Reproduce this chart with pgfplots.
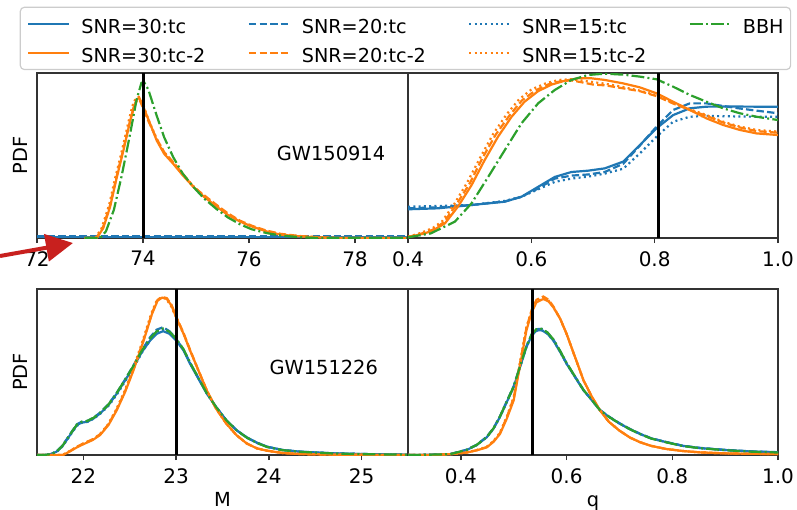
\documentclass[border=0pt]{standalone}
\usepackage{pgfplots}
\pgfplotsset{compat=1.18}
\usepackage{fontspec}
\setmainfont{DejaVu Sans}
\usetikzlibrary{arrows.meta}
\definecolor{tcblue}{HTML}{1F77B4}
\definecolor{tcorange}{HTML}{FF7F0E}
\definecolor{tcgreen}{HTML}{2CA02C}
\definecolor{arrowred}{HTML}{C8201E}

\pgfplotsset{
  panel/.style={
    scale only axis,
    ymin=0, ymax=1, ytick=\empty,
    axis line style={black!80, line width=0.7pt},
    xtick align=outside, xtick pos=bottom,
    major tick length=2.6pt,
    tick style={black!80, line width=0.7pt},
    tick label style={font=\fontsize{10}{12}\selectfont},
    xticklabel style={inner sep=0pt},
    xticklabel shift=3.9pt,
    /pgf/number format/assume math mode=true,
    label style={font=\fontsize{9.7}{11.5}\selectfont},
    clip=true,
  },
  tcs/.style={tcblue, line width=1.1pt, solid},
  tcd/.style={tcblue, line width=1.1pt, dash pattern=on 3.7pt off 1.6pt},
  tcp/.style={tcblue, line width=1.1pt, dash pattern=on 1pt off 1.65pt},
  t2s/.style={tcorange, line width=1.1pt, solid},
  t2d/.style={tcorange, line width=1.1pt, dash pattern=on 3.7pt off 1.6pt},
  t2p/.style={tcorange, line width=1.1pt, dash pattern=on 1pt off 1.65pt},
  bbh/.style={tcgreen, line width=1.1pt, dash pattern=on 6.4pt off 1.6pt on 1pt off 1.6pt},
  truth/.style={black, line width=1.5pt},
}

\begin{document}
\begin{tikzpicture}
\path[use as bounding box] (0pt,0pt) rectangle (398.5pt,-254.5pt);

% ---------------- top left: GW150914, M ----------------
\begin{axis}[panel, at={(18.5pt,-36.5pt)}, anchor=north west,
  width=185.5pt, height=82.5pt,
  xmin=72, xmax=79, xtick={72,74,76,78},
  ylabel={PDF},
  ylabel style={at={(axis description cs:-0.0458,0.5)}, anchor=center},
  legend columns=4,
  legend cell align=left,
  legend image code/.code={\draw[#1, line width=1.1pt] (0pt,0pt) -- (20.5pt,0pt);},
  legend style={at={(axis description cs:-0.0466,1.4018)}, anchor=north west,
    draw=black!20, line width=0.6pt, rounded corners=2pt, fill=white,
    font=\fontsize{9.6}{11.5}\selectfont,
    inner xsep=3.5pt, inner ysep=3.5pt, row sep=4.9pt,
    nodes={inner xsep=0pt, inner ysep=0pt, text height=9.6pt, text depth=0pt},
    /tikz/every odd column/.append style={column sep=5.4pt},
    /tikz/every even column/.append style={column sep=21.2pt}},
]
\addplot[tcs, forget plot] coordinates {(72,0.004) (79,0.004)};
\addplot[tcd, forget plot] coordinates {(72,0.012) (79,0.012)};
\addplot[tcp, forget plot] coordinates {(72,0.008) (79,0.008)};
\addplot[t2d, forget plot] coordinates {
(72.9,0) (73.12,0) (73.25,0.07) (73.38,0.2) (73.5,0.37) (73.63,0.54) (73.75,0.7)
(73.82,0.78) (73.88,0.83) (73.93,0.84) (74.0,0.79) (74.1,0.71) (74.26,0.6)
(74.4,0.52) (74.57,0.46) (74.75,0.39) (74.95,0.31) (75.15,0.26) (75.39,0.2)
(75.6,0.15) (75.83,0.105) (76.05,0.075) (76.33,0.045) (76.6,0.025) (76.96,0.012)
(77.3,0.005) (77.7,0) (79,0)};
\addplot[t2p, forget plot] coordinates {
(72.9,0) (73.1,0) (73.22,0.06) (73.36,0.2) (73.48,0.37) (73.61,0.54) (73.73,0.71)
(73.8,0.8) (73.86,0.845) (73.92,0.855) (74.0,0.81) (74.1,0.72) (74.26,0.6)
(74.4,0.52) (74.57,0.455) (74.75,0.385) (74.95,0.315) (75.15,0.255) (75.39,0.195)
(75.6,0.145) (75.83,0.1) (76.05,0.07) (76.33,0.042) (76.6,0.022) (76.96,0.01)
(77.3,0.004) (77.7,0) (79,0)};
\addplot[t2s, forget plot] coordinates {
(72.9,0) (73.13,0) (73.25,0.06) (73.38,0.19) (73.5,0.36) (73.63,0.53) (73.75,0.7)
(73.82,0.79) (73.88,0.84) (73.93,0.85) (74.0,0.8) (74.1,0.72) (74.26,0.59)
(74.4,0.51) (74.57,0.45) (74.75,0.38) (74.95,0.31) (75.15,0.25) (75.39,0.19)
(75.6,0.14) (75.83,0.1) (76.05,0.07) (76.33,0.04) (76.6,0.02) (76.96,0.01)
(77.3,0.004) (77.59,0) (79,0)};
\addplot[bbh, forget plot] coordinates {
(72.9,0) (73.19,0) (73.3,0.04) (73.45,0.17) (73.6,0.38) (73.75,0.62) (73.88,0.84)
(73.97,0.94) (74.02,0.945) (74.1,0.9) (74.26,0.74) (74.4,0.61) (74.57,0.49)
(74.75,0.39) (74.95,0.31) (75.15,0.24) (75.39,0.175) (75.6,0.125) (75.83,0.083)
(76.05,0.053) (76.33,0.03) (76.6,0.015) (76.96,0.005) (77.3,0) (79,0)};
\addplot[truth, forget plot] coordinates {(74,0) (74,1)};
\node[font=\fontsize{9.7}{11.5}\selectfont] at (rel axis cs:0.7925,0.512) {GW150914};
\addlegendimage{tcs}\addlegendentry{SNR=30:tc}
\addlegendimage{tcd}\addlegendentry{SNR=20:tc}
\addlegendimage{tcp}\addlegendentry{SNR=15:tc}
\addlegendimage{bbh}\addlegendentry{BBH}
\addlegendimage{t2s}\addlegendentry{SNR=30:tc-2}
\addlegendimage{t2d}\addlegendentry{SNR=20:tc-2}
\addlegendimage{t2p}\addlegendentry{SNR=15:tc-2}
\end{axis}

% ---------------- top right: GW150914, q ----------------
\begin{axis}[panel, at={(204pt,-36.5pt)}, anchor=north west,
  width=185pt, height=82.5pt,
  xmin=0.4, xmax=1.0, xtick={0.4,0.6,0.8,1.0}, xticklabels={0.4,0.6,0.8,1.0},
]
\addplot[tcp] coordinates {
(0.4,0.19) (0.449,0.194) (0.503,0.2) (0.557,0.225) (0.584,0.25) (0.611,0.295)
(0.638,0.34) (0.665,0.36) (0.692,0.372) (0.719,0.39) (0.749,0.42) (0.776,0.513)
(0.803,0.614) (0.83,0.705) (0.857,0.735) (0.884,0.74) (0.911,0.738) (0.965,0.735) (1.0,0.735)};
\addplot[tcd] coordinates {
(0.4,0.18) (0.449,0.186) (0.503,0.2) (0.557,0.222) (0.584,0.25) (0.611,0.3)
(0.638,0.36) (0.665,0.378) (0.692,0.385) (0.719,0.4) (0.749,0.45) (0.776,0.56)
(0.803,0.675) (0.83,0.776) (0.857,0.816) (0.884,0.816) (0.911,0.8) (0.938,0.785)
(0.965,0.772) (1.0,0.756)};
\addplot[tcs] coordinates {
(0.4,0.174) (0.449,0.18) (0.503,0.2) (0.557,0.22) (0.584,0.25) (0.611,0.31)
(0.638,0.37) (0.665,0.4) (0.692,0.408) (0.719,0.422) (0.749,0.463) (0.776,0.564)
(0.803,0.665) (0.83,0.745) (0.857,0.786) (0.884,0.796) (0.911,0.797) (0.965,0.796) (1.0,0.796)};
\addplot[t2p] coordinates {
(0.4,0.007) (0.42,0.03) (0.44,0.06) (0.455,0.1) (0.474,0.2) (0.495,0.33) (0.516,0.48)
(0.538,0.63) (0.56,0.75) (0.58,0.84) (0.6,0.9) (0.625,0.94) (0.645,0.958) (0.665,0.962)
(0.68,0.955) (0.7,0.945) (0.72,0.935) (0.749,0.915) (0.776,0.893) (0.803,0.865)
(0.83,0.82) (0.857,0.78) (0.884,0.745) (0.911,0.705) (0.938,0.675) (0.965,0.655) (1.0,0.645)};
\addplot[t2d] coordinates {
(0.4,0.006) (0.425,0.03) (0.44,0.05) (0.458,0.095) (0.478,0.2) (0.5,0.33) (0.52,0.48)
(0.542,0.625) (0.565,0.745) (0.585,0.835) (0.607,0.895) (0.63,0.935) (0.65,0.952)
(0.665,0.955) (0.68,0.945) (0.7,0.93) (0.72,0.925) (0.749,0.907) (0.776,0.89)
(0.803,0.86) (0.83,0.815) (0.857,0.776) (0.884,0.74) (0.911,0.7) (0.938,0.67)
(0.965,0.648) (1.0,0.638)};
\addplot[t2s] coordinates {
(0.4,0.005) (0.427,0.028) (0.44,0.045) (0.46,0.089) (0.481,0.19) (0.503,0.32)
(0.524,0.47) (0.546,0.614) (0.568,0.735) (0.589,0.826) (0.611,0.89) (0.633,0.93)
(0.654,0.953) (0.676,0.968) (0.697,0.968) (0.719,0.958) (0.749,0.937) (0.776,0.913)
(0.803,0.877) (0.83,0.826) (0.857,0.776) (0.884,0.725) (0.911,0.685) (0.938,0.655)
(0.965,0.634) (1.0,0.624)};
\addplot[bbh] coordinates {
(0.4,0.004) (0.437,0.028) (0.476,0.099) (0.503,0.21) (0.53,0.37) (0.557,0.533)
(0.584,0.695) (0.611,0.816) (0.638,0.897) (0.665,0.958) (0.692,0.988) (0.719,0.996)
(0.749,0.99) (0.776,0.978) (0.803,0.962) (0.83,0.917) (0.857,0.867) (0.884,0.826)
(0.911,0.786) (0.938,0.756) (0.965,0.735) (1.0,0.715)};
\addplot[truth] coordinates {(0.806,0) (0.806,1)};
\end{axis}

% ---------------- bottom left: GW151226, M ----------------
\begin{axis}[panel, at={(18.5pt,-144.5pt)}, anchor=north west,
  width=185.5pt, height=83pt,
  xmin=21.5, xmax=25.5, xtick={22,23,24,25},
  ylabel={PDF},
  ylabel style={at={(axis description cs:-0.0458,0.5)}, anchor=center},
  xlabel={M},
  xlabel style={at={(axis description cs:0.5,-0.311)}, anchor=base},
]
\addplot[tcd] coordinates {
(21.5,0) (21.57,0) (21.65,0.006) (21.71,0.022) (21.77,0.055) (21.82,0.095) (21.88,0.145)
(21.93,0.185) (21.98,0.2) (22.04,0.205) (22.11,0.225) (22.18,0.255) (22.27,0.305)
(22.36,0.375) (22.45,0.455) (22.54,0.54) (22.63,0.63) (22.72,0.71) (22.79,0.755)
(22.86,0.77) (22.93,0.745) (23.0,0.7) (23.08,0.635) (23.15,0.555) (23.24,0.465)
(23.33,0.375) (23.43,0.29) (23.54,0.21) (23.65,0.15) (23.76,0.105) (23.87,0.073)
(23.98,0.05) (24.15,0.03) (24.34,0.02) (24.7,0.01) (25.0,0.006) (25.5,0.002)};
\addplot[tcp] coordinates {
(21.5,0) (21.58,0) (21.66,0.006) (21.72,0.022) (21.78,0.055) (21.83,0.095) (21.89,0.145)
(21.94,0.18) (21.99,0.195) (22.05,0.2) (22.12,0.222) (22.19,0.252) (22.28,0.302)
(22.37,0.372) (22.46,0.452) (22.55,0.535) (22.64,0.625) (22.73,0.7) (22.8,0.745)
(22.87,0.758) (22.94,0.74) (23.0,0.7) (23.08,0.635) (23.15,0.555) (23.24,0.462)
(23.33,0.372) (23.43,0.29) (23.54,0.21) (23.65,0.15) (23.76,0.107) (23.87,0.075)
(23.98,0.05) (24.15,0.03) (24.34,0.02) (24.7,0.01) (25.0,0.006) (25.5,0.002)};
\addplot[tcs] coordinates {
(21.5,0) (21.57,0) (21.65,0.005) (21.71,0.02) (21.77,0.05) (21.82,0.09) (21.88,0.14)
(21.93,0.18) (21.98,0.195) (22.04,0.2) (22.11,0.22) (22.18,0.25) (22.27,0.3)
(22.36,0.37) (22.45,0.45) (22.54,0.53) (22.63,0.62) (22.72,0.69) (22.79,0.73)
(22.86,0.746) (22.93,0.73) (23.0,0.69) (23.08,0.63) (23.15,0.55) (23.24,0.46)
(23.33,0.37) (23.43,0.29) (23.54,0.21) (23.65,0.15) (23.76,0.107) (23.87,0.075)
(23.98,0.05) (24.15,0.03) (24.34,0.02) (24.7,0.01) (25.0,0.006) (25.5,0.002)};
\addplot[t2d] coordinates {
(21.5,0) (21.78,0) (21.85,0.022) (21.93,0.05) (22.0,0.07) (22.1,0.095) (22.18,0.125)
(22.27,0.185) (22.36,0.275) (22.45,0.385) (22.54,0.515) (22.65,0.695) (22.74,0.855)
(22.8,0.935) (22.85,0.952) (22.9,0.945) (22.95,0.905) (23.0,0.835) (23.08,0.735)
(23.15,0.635) (23.24,0.51) (23.33,0.39) (23.43,0.28) (23.54,0.19) (23.65,0.12)
(23.76,0.07) (23.87,0.04) (23.98,0.026) (24.15,0.012) (24.34,0.006) (24.7,0.002) (25.5,0)};
\addplot[t2p] coordinates {
(21.5,0) (21.77,0) (21.84,0.02) (21.92,0.046) (21.99,0.066) (22.09,0.09) (22.17,0.12)
(22.26,0.18) (22.35,0.27) (22.44,0.38) (22.53,0.51) (22.64,0.69) (22.73,0.85)
(22.79,0.93) (22.84,0.95) (22.89,0.942) (22.94,0.902) (23.0,0.83) (23.08,0.73)
(23.15,0.63) (23.24,0.51) (23.33,0.39) (23.43,0.28) (23.54,0.19) (23.65,0.12)
(23.76,0.07) (23.87,0.04) (23.98,0.026) (24.15,0.012) (24.34,0.006) (24.7,0.002) (25.5,0)};
\addplot[t2s] coordinates {
(21.5,0) (21.78,0) (21.85,0.02) (21.93,0.046) (22.0,0.065) (22.1,0.09) (22.18,0.12)
(22.27,0.18) (22.36,0.27) (22.45,0.38) (22.54,0.51) (22.65,0.69) (22.74,0.85)
(22.8,0.93) (22.85,0.948) (22.9,0.94) (22.95,0.9) (23.0,0.83) (23.08,0.73)
(23.15,0.63) (23.24,0.51) (23.33,0.39) (23.43,0.28) (23.54,0.19) (23.65,0.12)
(23.76,0.07) (23.87,0.04) (23.98,0.026) (24.15,0.012) (24.34,0.006) (24.7,0.002) (25.5,0)};
\addplot[bbh] coordinates {
(21.5,0) (21.57,0) (21.65,0.005) (21.71,0.021) (21.77,0.052) (21.82,0.093) (21.88,0.143)
(21.93,0.183) (21.98,0.2) (22.04,0.205) (22.11,0.224) (22.18,0.254) (22.27,0.304)
(22.36,0.374) (22.45,0.455) (22.54,0.537) (22.63,0.628) (22.72,0.702) (22.79,0.745)
(22.86,0.762) (22.93,0.742) (23.0,0.7) (23.08,0.637) (23.15,0.557) (23.24,0.465)
(23.33,0.373) (23.43,0.29) (23.54,0.21) (23.65,0.15) (23.76,0.105) (23.87,0.073)
(23.98,0.048) (24.15,0.029) (24.34,0.019) (24.7,0.009) (25.0,0.005) (25.5,0.002)};
\addplot[truth] coordinates {(23.0,0) (23.0,1)};
\node[font=\fontsize{9.7}{11.5}\selectfont] at (rel axis cs:0.773,0.527) {GW151226};
\end{axis}

% ---------------- bottom right: GW151226, q ----------------
\begin{axis}[panel, at={(204pt,-144.5pt)}, anchor=north west,
  width=185pt, height=83pt,
  xmin=0.3, xmax=1.0, xtick={0.4,0.6,0.8,1.0}, xticklabels={0.4,0.6,0.8,1.0},
  xlabel={q},
  xlabel style={at={(axis description cs:0.5,-0.311)}, anchor=base},
]
\addplot[tcd] coordinates {
(0.3,0) (0.33,0.001) (0.38,0.006) (0.411,0.032) (0.43,0.062) (0.449,0.11) (0.462,0.163)
(0.474,0.233) (0.487,0.325) (0.5,0.415) (0.512,0.535) (0.524,0.655) (0.534,0.727)
(0.543,0.758) (0.553,0.76) (0.564,0.737) (0.575,0.695) (0.588,0.625) (0.6,0.553)
(0.616,0.472) (0.632,0.392) (0.648,0.33) (0.663,0.272) (0.68,0.232) (0.7,0.192)
(0.72,0.157) (0.739,0.128) (0.76,0.101) (0.789,0.078) (0.82,0.056) (0.852,0.043)
(0.9,0.031) (0.95,0.022) (1.0,0.017)};
\addplot[tcp] coordinates {
(0.3,0) (0.33,0.001) (0.38,0.005) (0.411,0.03) (0.43,0.06) (0.449,0.107) (0.462,0.16)
(0.474,0.23) (0.487,0.32) (0.5,0.41) (0.512,0.53) (0.524,0.65) (0.534,0.72)
(0.543,0.75) (0.553,0.752) (0.564,0.73) (0.575,0.69) (0.588,0.62) (0.6,0.55)
(0.616,0.47) (0.632,0.39) (0.648,0.33) (0.663,0.27) (0.68,0.23) (0.7,0.19)
(0.72,0.155) (0.739,0.127) (0.76,0.1) (0.789,0.077) (0.82,0.055) (0.852,0.042)
(0.9,0.03) (0.95,0.021) (1.0,0.016)};
\addplot[tcs] coordinates {
(0.3,0) (0.33,0.001) (0.38,0.005) (0.411,0.03) (0.43,0.06) (0.449,0.107) (0.462,0.16)
(0.474,0.23) (0.487,0.32) (0.5,0.41) (0.512,0.53) (0.524,0.65) (0.534,0.72)
(0.543,0.75) (0.553,0.752) (0.564,0.73) (0.575,0.69) (0.588,0.62) (0.6,0.55)
(0.616,0.47) (0.632,0.39) (0.648,0.33) (0.663,0.27) (0.68,0.23) (0.7,0.19)
(0.72,0.155) (0.739,0.127) (0.76,0.1) (0.789,0.077) (0.82,0.055) (0.852,0.042)
(0.9,0.03) (0.95,0.021) (1.0,0.016)};
\addplot[t2d] coordinates {
(0.3,0) (0.348,0) (0.38,0.005) (0.411,0.015) (0.43,0.029) (0.449,0.048) (0.462,0.083)
(0.474,0.132) (0.487,0.228) (0.5,0.345) (0.512,0.555) (0.524,0.765) (0.534,0.875)
(0.543,0.935) (0.556,0.955) (0.566,0.935) (0.575,0.895) (0.588,0.82) (0.6,0.73)
(0.616,0.59) (0.632,0.45) (0.648,0.35) (0.663,0.27) (0.68,0.2) (0.7,0.147)
(0.72,0.105) (0.739,0.077) (0.76,0.055) (0.789,0.036) (0.82,0.024) (0.852,0.016)
(0.9,0.01) (0.95,0.007) (1.0,0.006)};
\addplot[t2p] coordinates {
(0.3,0) (0.348,0) (0.38,0.005) (0.411,0.016) (0.43,0.03) (0.449,0.05) (0.462,0.085)
(0.474,0.135) (0.487,0.232) (0.5,0.35) (0.512,0.56) (0.524,0.77) (0.534,0.87)
(0.543,0.925) (0.556,0.945) (0.566,0.93) (0.575,0.89) (0.588,0.82) (0.6,0.73)
(0.616,0.59) (0.632,0.45) (0.648,0.35) (0.663,0.27) (0.68,0.2) (0.7,0.147)
(0.72,0.105) (0.739,0.077) (0.76,0.055) (0.789,0.036) (0.82,0.024) (0.852,0.016)
(0.9,0.01) (0.95,0.007) (1.0,0.006)};
\addplot[t2s] coordinates {
(0.3,0) (0.348,0) (0.38,0.005) (0.411,0.015) (0.43,0.028) (0.449,0.046) (0.462,0.08)
(0.474,0.127) (0.487,0.22) (0.5,0.33) (0.512,0.54) (0.524,0.75) (0.534,0.86)
(0.543,0.92) (0.556,0.94) (0.566,0.925) (0.575,0.89) (0.588,0.82) (0.6,0.73)
(0.616,0.59) (0.632,0.45) (0.648,0.35) (0.663,0.27) (0.68,0.2) (0.7,0.147)
(0.72,0.105) (0.739,0.077) (0.76,0.055) (0.789,0.036) (0.82,0.024) (0.852,0.016)
(0.9,0.01) (0.95,0.007) (1.0,0.006)};
\addplot[bbh] coordinates {
(0.3,0) (0.33,0.001) (0.38,0.005) (0.411,0.031) (0.43,0.061) (0.449,0.108) (0.462,0.162)
(0.474,0.232) (0.487,0.323) (0.5,0.413) (0.512,0.535) (0.524,0.655) (0.534,0.728)
(0.543,0.758) (0.553,0.76) (0.564,0.738) (0.575,0.697) (0.588,0.626) (0.6,0.555)
(0.616,0.473) (0.632,0.392) (0.648,0.331) (0.663,0.271) (0.68,0.23) (0.7,0.19)
(0.72,0.155) (0.739,0.126) (0.76,0.099) (0.789,0.076) (0.82,0.054) (0.852,0.041)
(0.9,0.029) (0.95,0.02) (1.0,0.015)};
\addplot[truth] coordinates {(0.535,0) (0.535,1)};
\end{axis}

% annotation arrow
\draw[arrowred, line width=2pt, -{Triangle[length=13.5pt,width=13.5pt]}]
  (0pt,-128pt) -- (36.5pt,-121.5pt);
\end{tikzpicture}
\end{document}
